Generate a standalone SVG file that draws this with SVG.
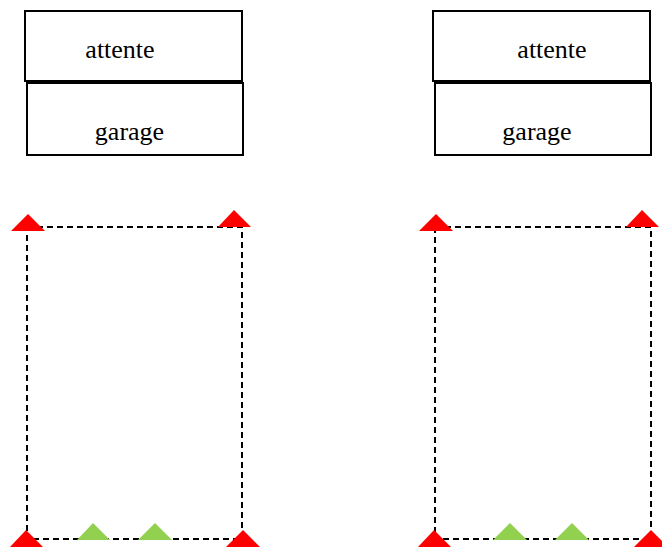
<svg xmlns="http://www.w3.org/2000/svg" width="662" height="547" viewBox="0 0 662 547">
<style>
.box{fill:#fff;stroke:#000;stroke-width:2}
.lbl{font-family:"Liberation Serif","Times New Roman",serif;font-size:26px;fill:#000;text-anchor:middle}
.dash{fill:none;stroke:#000;stroke-width:2;stroke-dasharray:6 4}
.red{fill:#ff0000}
.green{fill:#92d050}
</style>
<rect width="662" height="547" fill="#fff"/>
<g id="connectors">
<rect class="dash" x="27" y="227" width="215" height="312"/>
<rect class="dash" x="435" y="227" width="216" height="312"/>
</g>
<g id="attente-left"><rect class="box" x="25" y="11" width="217" height="70"/><text class="lbl" x="120" y="58">attente</text></g>
<g id="garage-left"><rect class="box" x="27" y="83" width="216" height="72"/><text class="lbl" x="129.5" y="140">garage</text></g>
<g id="attente-right"><rect class="box" x="433" y="11" width="217" height="70"/><text class="lbl" x="552" y="58">attente</text></g>
<g id="garage-right"><rect class="box" x="435" y="83" width="216" height="72"/><text class="lbl" x="537" y="140">garage</text></g>
<g id="markers-left">
<polygon class="red" points="28,214 45,231 11,231"/>
<polygon class="red" points="234,210 251,227 218,227"/>
<polygon class="red" points="26,530 43,547 10,547"/>
<polygon class="red" points="243,530 260,547 226,547"/>
<polygon class="green" points="93,523 110,540 77,540"/>
<polygon class="green" points="155,523 172,540 138,540"/>
</g>
<g id="markers-right">
<polygon class="red" points="436,214 453,231 419,231"/>
<polygon class="red" points="642,210 659,227 626,227"/>
<polygon class="red" points="434,530 451,547 418,547"/>
<polygon class="red" points="651,530 668,547 634,547"/>
<polygon class="green" points="510,523 527,540 493,540"/>
<polygon class="green" points="572,523 589,540 555,540"/>
</g>
</svg>
